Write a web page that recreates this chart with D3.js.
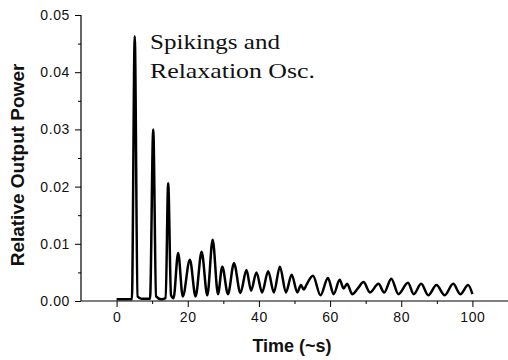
<!DOCTYPE html>
<html><head><meta charset="utf-8">
<script src="https://cdn.jsdelivr.net/npm/d3@7"></script>
<style>body{margin:0;background:#fff}svg{display:block}</style>
</head><body>
<svg id="c" width="508" height="360"></svg>
<script>
const time  = [0,4.3,5.1,5.9,7,9.4,10.3,11.1,12.5,13.8,14.5,15.3,16.0,17.3,18.6,20.6,22.2,23.9,25.5,27.0,28.5,29.7,31.3,33.0,34.8,36.5,37.8,39.3,40.9,42.6,44.2,45.9,47.6,49.2,50.8,51.8,52.6,53.5,55.2,57.3,59.4,61.0,62.7,63.8,64.8,66.2,67.8,69.4,71.2,73.6,75.2,77.2,79.2,81.9,83.5,85.6,87.6,89.9,92.2,94.6,96.6,98.8,100];
const power = [0.0003,0.0003,0.0463,0.0008,0.0004,0.0004,0.0300,0.0008,0.0003,0.0005,0.0206,0.0010,0.0005,0.0084,0.0008,0.0072,0.0008,0.0086,0.0010,0.0107,0.0012,0.0060,0.0012,0.0066,0.0014,0.0054,0.0018,0.0050,0.0015,0.0052,0.0015,0.0060,0.0015,0.0046,0.0015,0.0028,0.0020,0.0030,0.0044,0.0010,0.0040,0.0012,0.0037,0.0022,0.0030,0.0012,0.0022,0.0033,0.0015,0.0030,0.0015,0.0039,0.0012,0.0032,0.0012,0.0030,0.0010,0.0028,0.0010,0.0030,0.0012,0.0028,0.0012];
const xMajor = [0,20,40,60,80,100];
const xMinor = [10,30,50,70,90];
const yMajor = [0,0.01,0.02,0.03,0.04,0.05];
const yMinor = [0.005,0.015,0.025,0.035,0.045];
const xTitle = "Time (~s)";
const yTitle = "Relative Output Power";
const note = ["Spikings and","Relaxation Osc."];

const svg = d3.select("#c");
const x = d3.scaleLinear().domain([-10,110]).range([81,508]);
const y = d3.scaleLinear().domain([0,0.05]).range([301,15]);
const sans = "'Liberation Sans', Arial, sans-serif";

// x axis
const gx = svg.append("g").attr("transform",`translate(0,${y(0)})`);
gx.call(d3.axisBottom(x).tickValues(xMajor).tickSize(6).tickPadding(5).tickFormat(d3.format("d")));
gx.append("g").call(d3.axisBottom(x).tickValues(xMinor).tickSize(3).tickFormat(""));
// y axis
const gy = svg.append("g").attr("transform",`translate(${x(-10)},0)`);
gy.call(d3.axisLeft(y).tickValues(yMajor).tickSize(6).tickPadding(5).tickFormat(d3.format(".2f")));
gy.append("g").call(d3.axisLeft(y).tickValues(yMinor).tickSize(3).tickFormat(""));

svg.selectAll(".tick line").attr("stroke","#000").attr("stroke-width",1);
svg.selectAll(".tick text").attr("font-family",sans).attr("font-size",14).attr("fill","#111").attr("letter-spacing",0.6);

// plain axis lines
svg.selectAll(".domain").remove();
svg.append("line").attr("x1",x(-10)).attr("x2",x(110)).attr("y1",y(0)).attr("y2",y(0)).attr("stroke","#000").attr("stroke-width",1.2);
svg.append("line").attr("x1",x(-10)).attr("x2",x(-10)).attr("y1",y(0)).attr("y2",y(0.05)).attr("stroke","#000").attr("stroke-width",1.2);

// data line
const data = time.map((t,i)=>[t,power[i]]);
svg.append("path").datum(data)
  .attr("d", d3.line().x(d=>x(d[0])).y(d=>y(d[1])).curve(d3.curveMonotoneX))
  .attr("fill","none").attr("stroke","#000").attr("stroke-width",2.5).attr("stroke-linejoin","round");

// titles
svg.append("text").attr("x",292).attr("y",352).attr("text-anchor","middle")
  .attr("font-family",sans).attr("font-weight","bold").attr("font-size",18).attr("fill","#111").text(xTitle);
svg.append("text").attr("transform",`translate(24,${(58+272)/2}) rotate(-90)`).attr("text-anchor","middle")
  .attr("font-family",sans).attr("font-weight","bold").attr("font-size",19).attr("fill","#111").text(yTitle);

// annotation
const serif = "'Liberation Serif', 'Times New Roman', serif";
svg.append("text").attr("x",150).attr("y",49).attr("font-family",serif).attr("font-size",21)
  .attr("textLength",130).attr("lengthAdjust","spacingAndGlyphs").attr("fill","#111").text(note[0]);
svg.append("text").attr("x",150).attr("y",78).attr("font-family",serif).attr("font-size",21)
  .attr("textLength",165).attr("lengthAdjust","spacingAndGlyphs").attr("fill","#111").text(note[1]);
</script>
</body></html>
